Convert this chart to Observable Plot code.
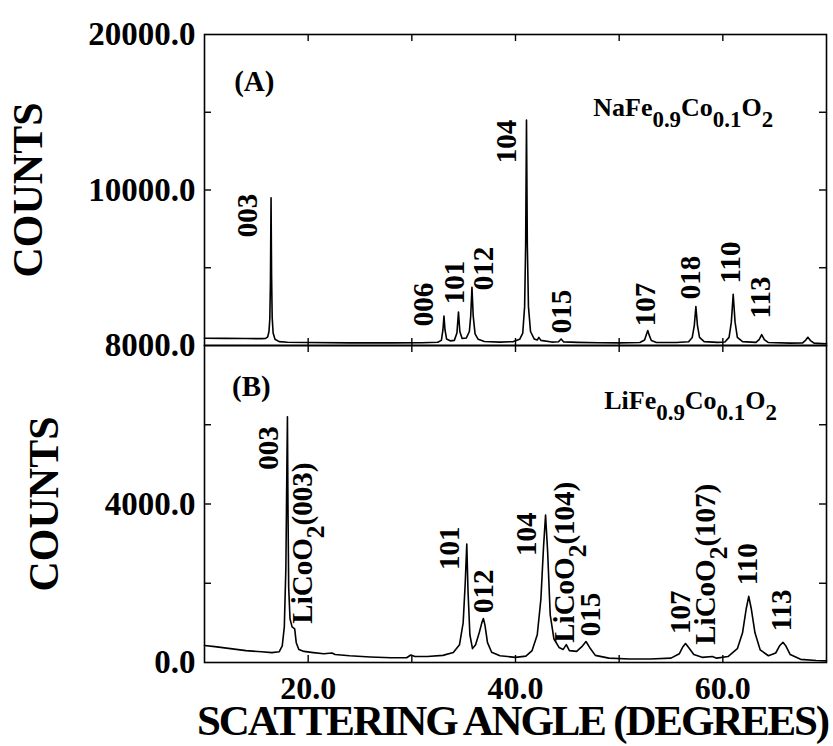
<!DOCTYPE html>
<html><head><meta charset="utf-8">
<script src="https://cdn.jsdelivr.net/npm/d3@7"></script>
<script src="https://cdn.jsdelivr.net/npm/@observablehq/plot@0.6"></script>
<style>
body{margin:0;background:#fff;}
#wrap{position:relative;width:833px;height:746px;overflow:hidden;background:#fff;}
#wrap svg{position:absolute;left:0;}
</style></head><body><div id="wrap"></div>
<script>
// ---------- Panel A: NaFe0.9Co0.1O2 ----------
const naAngle = [10.0,12.0,14.0,15.5,15.9,16.1,16.22,16.3,16.36,16.42,16.47,16.53,16.62,16.8,17.2,18.0,20.0,24.0,28.0,31.0,32.5,32.85,33.0,33.1,33.2,33.35,33.7,34.1,34.35,34.5,34.63,34.85,35.25,35.55,35.68,35.8,35.92,36.1,36.4,37.0,38.5,39.8,40.4,40.7,40.88,40.98,41.06,41.14,41.25,41.45,41.8,42.1,42.25,42.45,43.5,44.15,44.4,44.65,46.0,48.0,50.0,52.0,52.45,52.65,52.76,52.88,53.1,53.6,55.5,56.7,57.05,57.25,57.4,57.55,57.75,58.2,59.5,60.2,60.6,60.82,61.0,61.18,61.4,61.9,63.2,63.5,63.75,64.0,64.4,66.5,67.7,68.0,68.2,68.45,68.8,69.6,70.0];
const naCounts = [470,460,450,440,460,560,900,1700,4000,9500,4500,1800,800,400,250,210,190,170,170,180,210,330,1000,1900,1000,420,300,330,800,2150,900,450,480,900,1900,3750,1900,750,400,260,220,250,400,800,2500,6500,14500,6500,2500,900,420,350,520,330,220,240,420,230,200,180,170,190,350,760,960,700,320,190,190,240,520,1300,2500,1300,520,250,200,230,520,1500,3300,1500,520,250,200,380,700,380,190,150,170,350,530,320,150,120,110];
const naLabelText = ["003","006","101","012","104","015","107","018","110","113"];
const naLabelAngle = [14.13,31.15,34.13,36.92,39.13,44.42,52.6,56.92,60.77,63.65];
const naLabelCounts = [8360,2636,4050,4950,13117,2186,2636,4372,5337,3086];
const naTag = "(A)", naTagAngle = 14.8, naTagCounts = 16975;
const naFormula = "NaFe{0.9}Co{0.1}O{2}", naFormulaAngle = 47.5, naFormulaCounts = 15300;
const naYTicks = [5000,10000,15000];
const naYLabelTicks = [10000,20000];

// ---------- Panel B: LiFe0.9Co0.1O2 ----------
const liAngle = [10.0,11.0,12.5,14.0,15.5,16.5,17.2,17.5,17.7,17.85,17.95,18.0,18.05,18.12,18.25,18.45,18.7,18.85,19.1,19.6,20.5,21.5,22.3,22.6,24.0,26.0,28.0,29.5,29.9,30.3,31.5,33.0,34.0,34.6,34.95,35.15,35.3,35.42,35.6,35.85,36.15,36.5,36.75,36.9,37.05,37.3,37.7,38.5,40.0,41.0,41.6,42.1,42.45,42.7,42.9,43.1,43.35,43.7,44.2,44.6,44.9,45.2,45.9,46.4,46.8,47.15,47.7,49.0,51.0,53.0,55.0,55.8,56.15,56.4,56.7,57.2,58.0,59.0,59.4,60.5,61.4,61.9,62.25,62.5,62.75,63.1,63.6,64.4,65.1,65.5,65.8,66.05,66.5,67.5,69.0,70.0];
const liCounts = [430,400,350,300,270,250,270,420,900,2400,5000,6200,4000,1900,1100,900,850,500,330,280,250,220,240,200,170,140,120,120,190,150,150,180,250,450,1000,2000,2990,1800,700,350,450,750,1000,1110,950,500,260,170,130,160,300,700,1600,2900,3720,2800,1200,600,380,330,450,300,280,400,530,380,180,110,90,90,110,220,400,480,380,200,130,150,110,150,350,750,1350,1670,1350,750,320,170,240,430,510,430,200,80,50,40];
const liLabelText = ["003","LiCoO{2}(003)","101","012","104","LiCoO{2}(104)","015","107","LiCoO{2}(107)","110","113"];
const liLabelAngle = [16.15,19.5,33.65,36.92,41.06,44.7,47.3,55.96,58.37,62.4,65.67];
const liLabelCounts = [5414,3011,2884,1796,3238,2530,1214,1265,2479,2479,1316];
const liTag = "(B)", liTagAngle = 14.52, liTagCounts = 6958;
const liFormula = "LiFe{0.9}Co{0.1}O{2}", liFormulaAngle = 48.56, liFormulaCounts = 6600;
const liYTicks = [2000,4000,6000];
const liYLabelTicks = [0,4000,8000];

const xDomain = [10,70];
const xTicks = [20,30,40,50,60];
const xLabelTicks = [20,40,60];
const yTitle = "COUNTS";
const xTitle = "SCATTERING ANGLE (DEGREES)";

// ---------- drawing ----------
const FONT = "'Liberation Serif','Times New Roman',serif";
const W = 833, ML = 204, MR = 7, FW = W - ML - MR, TL = 7;

function rows(ax, cs) { return ax.map((a, i) => ({angle: a, counts: cs[i]})); }
function labelRows(t, a, c) { return t.map((s, i) => ({text: s, angle: a[i], counts: c[i]})); }

function panel(o) {
  const FH = o.height - o.marginTop - o.marginBottom;
  return Plot.plot({
    width: W, height: o.height,
    marginLeft: ML, marginRight: MR, marginTop: o.marginTop, marginBottom: o.marginBottom,
    style: {fontFamily: FONT, background: "transparent", overflow: "visible", color: "black"},
    x: {domain: xDomain, axis: null},
    y: {domain: o.yDomain, axis: null},
    marks: [
      Plot.frame({stroke: "black", strokeWidth: 1.6}),
      Plot.ruleY(o.yTicks, {insetRight: FW - TL, strokeWidth: 1.4}),
      Plot.ruleY(o.yTicks, {insetLeft: FW - TL, strokeWidth: 1.4}),
      Plot.ruleX(xTicks, {insetBottom: FH - TL, strokeWidth: 1.4}),
      Plot.ruleX(xTicks, {insetTop: FH - TL, strokeWidth: 1.4}),
      Plot.axisY({ticks: o.yLabelTicks, tickSize: 0, tickPadding: 9, tickFormat: d => d.toFixed(1),
        fontSize: 33, fontWeight: "bold", label: null, anchor: "left"}),
      ...(o.xLabels ? [Plot.axisX({ticks: xLabelTicks, tickSize: 0, tickPadding: 14, tickFormat: d => d.toFixed(1),
        fontSize: 32, fontWeight: "bold", label: null, anchor: "bottom"})] : []),
      Plot.line(o.data, {x: "angle", y: "counts", stroke: "black", strokeWidth: 1.6}),
      Plot.text(o.labels, {x: "angle", y: "counts", text: "text", rotate: -90, fontSize: 29, fontWeight: "bold"}),
      Plot.text([o.tag], {x: () => o.tagAngle, y: () => o.tagCounts, text: d => d, fontSize: 29, fontWeight: "bold"}),
      Plot.text([o.formula], {x: () => o.formulaAngle, y: () => o.formulaCounts, text: d => d, textAnchor: "start", fontSize: 26, fontWeight: "bold"}),
      Plot.text([yTitle], {frameAnchor: "left", textAnchor: "middle", lineAnchor: "middle", dx: o.countsDx, rotate: -90, fontSize: 42, fontWeight: "bold"}),
      ...(o.xLabels ? [Plot.text([xTitle], {frameAnchor: "bottom", textAnchor: "middle", lineAnchor: "middle", dx: -3, dy: 59, fontSize: 43, fontWeight: "bold"})] : [])
    ]
  });
}

const topPlot = panel({
  height: 346, marginTop: 34, marginBottom: 1, yDomain: [0, 20000],
  yTicks: naYTicks, yLabelTicks: naYLabelTicks, xLabels: false,
  data: rows(naAngle, naCounts), labels: labelRows(naLabelText, naLabelAngle, naLabelCounts),
  tag: naTag, tagAngle: naTagAngle, tagCounts: naTagCounts,
  formula: naFormula, formulaAngle: naFormulaAngle, formulaCounts: naFormulaCounts,
  countsDx: -176
});
const botPlot = panel({
  height: 426, marginTop: 25, marginBottom: 84, yDomain: [0, 8000],
  yTicks: liYTicks, yLabelTicks: liYLabelTicks, xLabels: true,
  data: rows(liAngle, liCounts), labels: labelRows(liLabelText, liLabelAngle, liLabelCounts),
  tag: liTag, tagAngle: liTagAngle, tagCounts: liTagCounts,
  formula: liFormula, formulaAngle: liFormulaAngle, formulaCounts: liFormulaCounts,
  countsDx: -160
});

const wrap = document.getElementById("wrap");
topPlot.style.top = "0px";
botPlot.style.top = "320px";
wrap.appendChild(topPlot);
wrap.appendChild(botPlot);

// subscripts written as {..} become real tspans
const NS = "http://www.w3.org/2000/svg";
function subscriptify(svg) {
  svg.querySelectorAll("text").forEach(t => {
    const s = t.textContent;
    if (!s.includes("{")) return;
    const fs = parseFloat(getComputedStyle(t).fontSize);
    const subSize = fs * 0.88, shift = fs * 0.42;
    t.textContent = "";
    let lowered = false;
    s.split(/(\{[^}]*\})/).forEach(p => {
      if (!p) return;
      const ts = document.createElementNS(NS, "tspan");
      if (p[0] === "{") {
        ts.textContent = p.slice(1, -1);
        ts.setAttribute("font-size", subSize);
        if (!lowered) { ts.setAttribute("dy", shift); lowered = true; }
      } else {
        ts.textContent = p;
        if (lowered) { ts.setAttribute("dy", -shift); lowered = false; }
      }
      t.appendChild(ts);
    });
  });
}
// tighten the axis title so it spans the same width as in the reference
function tighten(svg, str, target) {
  svg.querySelectorAll("text").forEach(t => {
    if (t.textContent !== str) return;
    const natural = t.getComputedTextLength();
    const n = str.length;
    t.style.letterSpacing = ((target - natural) / n).toFixed(2) + "px";
  });
}
[topPlot, botPlot].forEach(subscriptify);
tighten(botPlot, xTitle, 631);
</script>
</body></html>
